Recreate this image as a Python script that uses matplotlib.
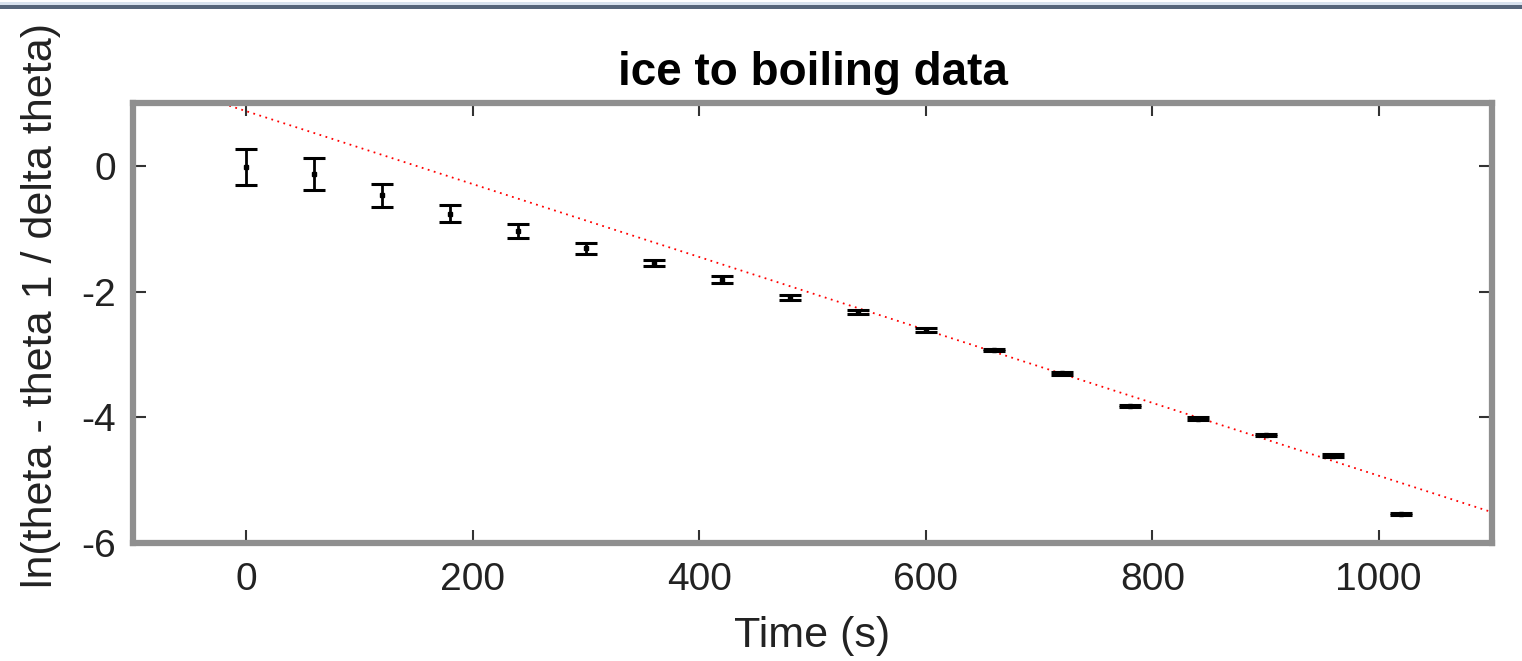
import matplotlib.pyplot as plt
import numpy as np
from matplotlib.patches import Rectangle

# measured data (time in s, log ratio, error)
time_s = [0, 60, 120, 180, 240, 300, 360, 420, 480, 540,
          600, 660, 720, 780, 840, 900, 960, 1020]
log_ratio = [-0.02, -0.13, -0.47, -0.76, -1.03, -1.31, -1.55, -1.81, -2.10, -2.32,
             -2.61, -2.93, -3.30, -3.82, -4.02, -4.28, -4.61, -5.54]
log_err = [0.29, 0.25, 0.18, 0.14, 0.11, 0.09, 0.05, 0.05, 0.04, 0.03,
           0.03, 0.02, 0.02, 0.02, 0.02, 0.02, 0.02, 0.02]

# linear fit shown as red dotted line
fit_intercept = 0.87
fit_slope = -0.0058

x_ticks = [0, 200, 400, 600, 800, 1000]
y_ticks = [-6, -4, -2, 0]

plt.rcParams['font.family'] = ['Liberation Sans', 'DejaVu Sans']
plt.rcParams['axes.unicode_minus'] = False

fig = plt.figure(figsize=(15.22, 6.61), dpi=100)
ax = fig.add_axes([133 / 1522, 1 - 543 / 661, (1492 - 133) / 1522, (543 - 103) / 661])

# fit line over the full x range
xf = np.array([-100, 1100])
ax.plot(xf, fit_intercept + fit_slope * xf, color='red', linestyle=(0, (1, 2.5)), linewidth=1.3)

ax.errorbar(time_s, log_ratio, yerr=log_err, fmt='s', color='black', markersize=3.5,
            elinewidth=2, capsize=8, capthick=2.2)

ax.set_xlim(-100, 1100)
ax.set_ylim(-6, 1)
ax.set_xticks(x_ticks)
ax.set_yticks(y_ticks)

for s in ax.spines.values():
    s.set_color('#8f8f8f')
    s.set_linewidth(4.5)
ax.tick_params(direction='in', length=9.5, width=1.5, color='#333333',
               top=True, right=True, labelsize=28, labelcolor='#222222')
ax.tick_params(axis='x', pad=14)
ax.tick_params(axis='y', pad=12)

ax.set_title('ice to boiling data', fontsize=33, fontweight='bold', pad=13)
ax.set_xlabel('Time (s)', fontsize=31, labelpad=13, color='#222222')
ax.set_ylabel('ln(theta - theta 1 / delta theta)', fontsize=31, color='#222222')
ax.yaxis.set_label_coords(-0.053, 0.54)

# screenshot header strip at the top
fig.add_artist(Rectangle((0, 1 - 5 / 661), 1, 3 / 661, transform=fig.transFigure,
                         color='#d8e2ee', lw=0))
fig.add_artist(Rectangle((0, 1 - 9 / 661), 1, 4 / 661, transform=fig.transFigure,
                         color='#56657a', lw=0))

fig.savefig('out.png', dpi=100)
